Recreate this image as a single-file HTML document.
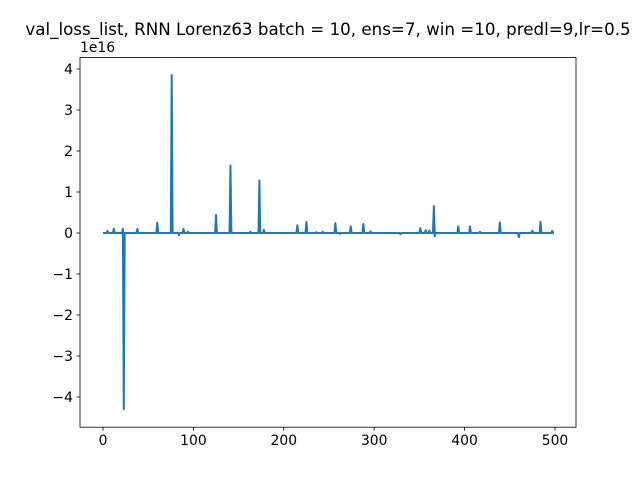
<!DOCTYPE html>
<html><head><meta charset="utf-8"><style>
body{margin:0;background:#fff;}
svg{display:block;font-family:"DejaVu Sans","Liberation Sans",sans-serif;}
</style></head><body>
<svg id="chart" width="640" height="480">
<rect width="640" height="480" fill="#fff"/>
<text x="328" y="35" font-size="16.7" text-anchor="middle">val_loss_list, RNN Lorenz63 batch = 10, ens=7, win =10, predl=9,lr=0.5</text>
<text x="80" y="52" font-size="13.9">1e16</text>
<g id="xt"></g><g id="yt"></g>
<path id="line" fill="none" stroke="#1f77b4" stroke-width="2" stroke-linejoin="round"/>
<rect x="80" y="57.6" width="496" height="369.6" fill="none" stroke="#000" stroke-width="0.8"/>
</svg>
<script>
const spikeEpochs = [5,12,22,23,38,60,76,84,89,94,125,141,163,173,178,215,225,236,243,257,262,274,288,296,329,351,357,361,366,367,393,406,417,439,460,475,484,497];
const spikeValues = [0.05,0.1,0.1,-4.3,0.1,0.25,3.85,-0.05,0.1,0.03,0.44,1.65,0.03,1.28,0.08,0.19,0.27,0.02,0.03,0.24,-0.02,0.16,0.22,0.04,-0.03,0.12,0.07,0.06,0.66,-0.08,0.16,0.16,0.03,0.26,-0.1,0.06,0.27,0.05];
const xTicks = [0,100,200,300,400,500];
const yTicks = [-4,-3,-2,-1,0,1,2,3,4];
const nPoints = 500;
const values = new Array(nPoints).fill(0);
spikeEpochs.forEach((e,i)=>{values[e]=spikeValues[i];});
const X = v => 103 + v*0.904;
const Y = v => 233 - v*41;
const NS="http://www.w3.org/2000/svg";
let d="";
values.forEach((v,i)=>{d+=(i?"L":"M")+X(i).toFixed(2)+","+Y(v).toFixed(2);});
document.getElementById('line').setAttribute('d',d);
const xt=document.getElementById('xt');
xTicks.forEach(t=>{
  const l=document.createElementNS(NS,'line');
  l.setAttribute('x1',X(t));l.setAttribute('x2',X(t));l.setAttribute('y1',427.2);l.setAttribute('y2',430.7);
  l.setAttribute('stroke','#000');l.setAttribute('stroke-width','0.8');
  
  
  xt.appendChild(l);
  const s=document.createElementNS(NS,'text');
  s.setAttribute('x',X(t));s.setAttribute('y',445);s.setAttribute('font-size','13.9');s.setAttribute('text-anchor','middle');
  s.textContent=t;
  
  
  xt.appendChild(s);
});
const yt=document.getElementById('yt');
yTicks.forEach(t=>{
  const l=document.createElementNS(NS,'line');
  l.setAttribute('x1',76.5);l.setAttribute('x2',80);l.setAttribute('y1',Y(t));l.setAttribute('y2',Y(t));
  l.setAttribute('stroke','#000');l.setAttribute('stroke-width','0.8');
  
  
  yt.appendChild(l);
  const s=document.createElementNS(NS,'text');
  s.setAttribute('x',73);s.setAttribute('y',Y(t)+5);s.setAttribute('font-size','13.9');s.setAttribute('text-anchor','end');
  s.textContent=t<0?"\u2212"+Math.abs(t):t;
  
  
  yt.appendChild(s);
});
</script>
</body></html>
